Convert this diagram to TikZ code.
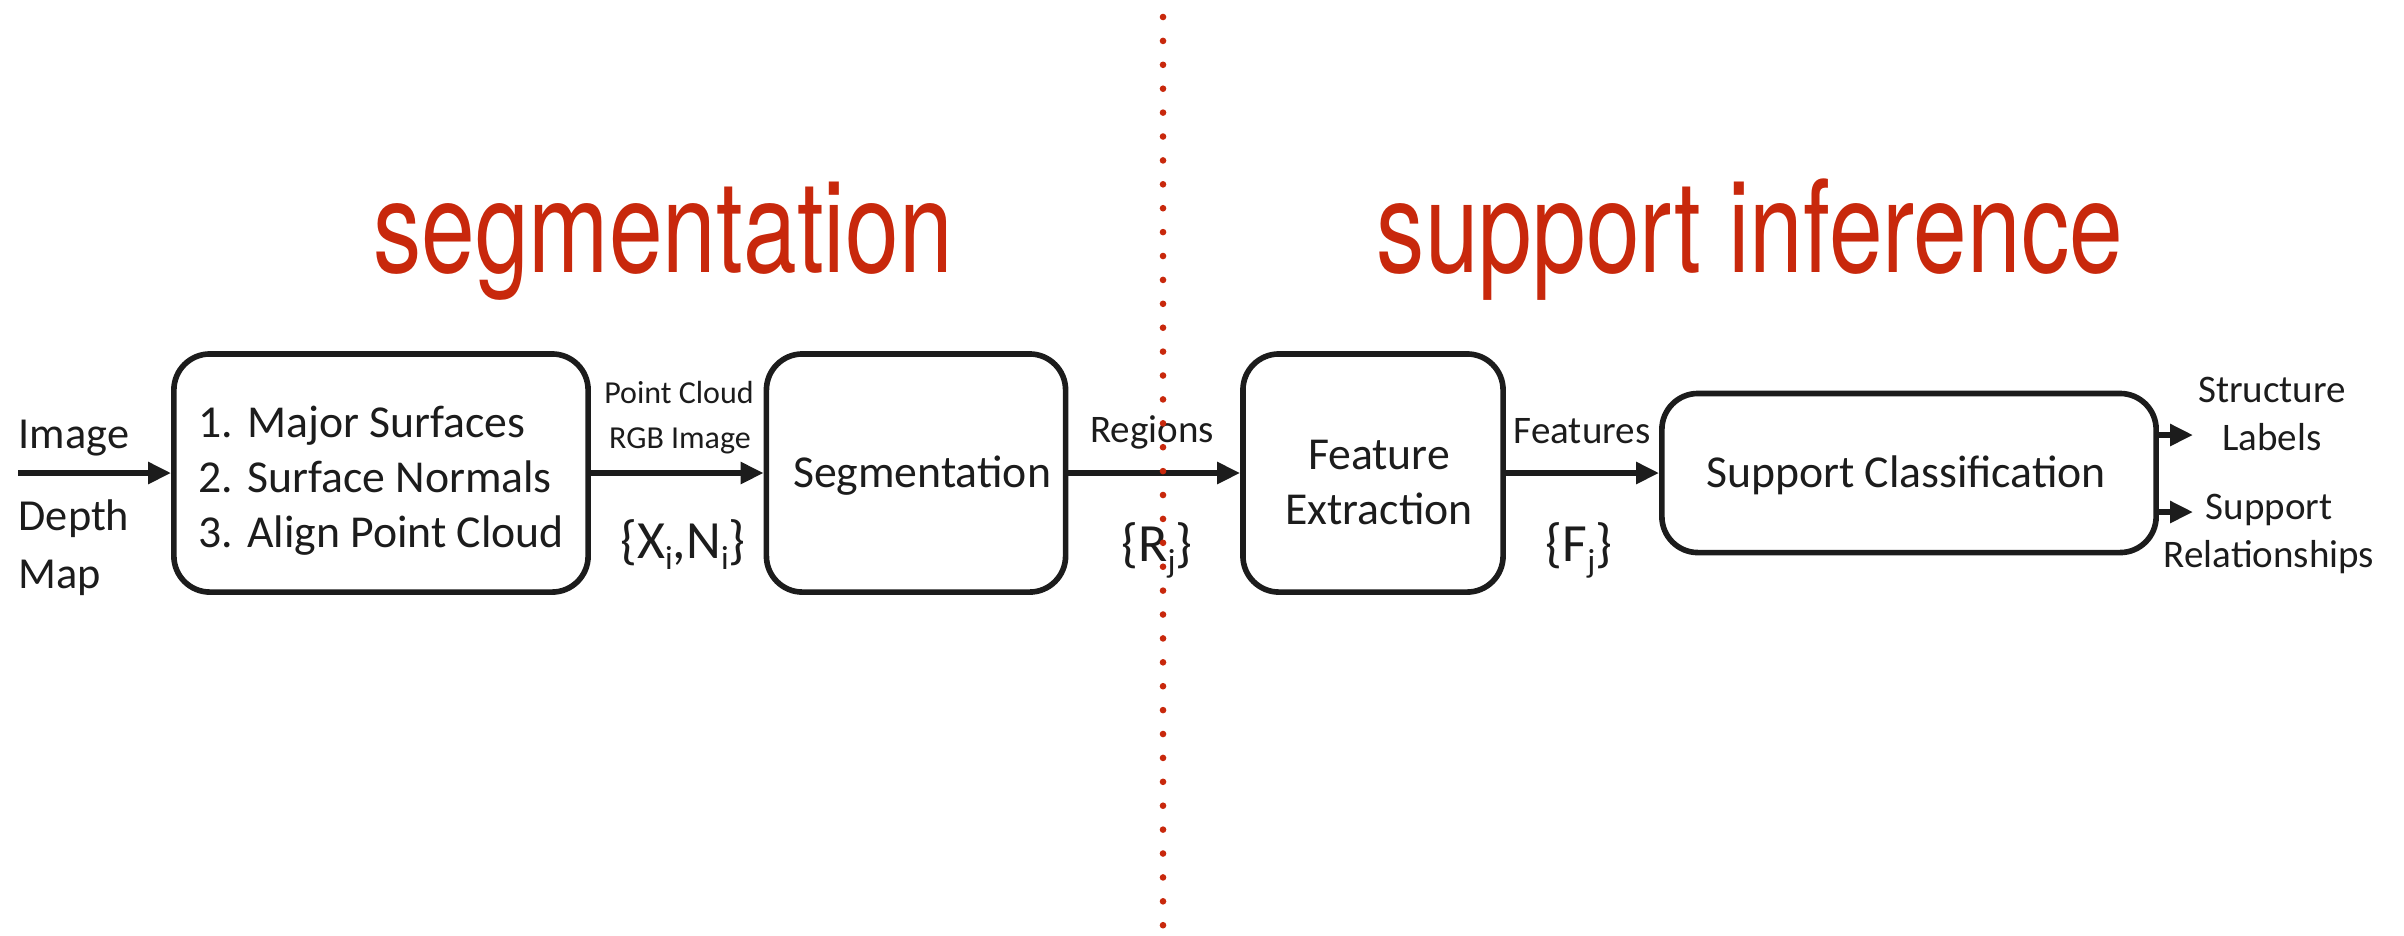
\documentclass[tikz,border=0pt]{standalone}
\usepackage{fontspec}
\setmainfont{Carlito}
\newfontfamily\headfont{TeX Gyre Heros}
\usetikzlibrary{arrows.meta}
\definecolor{sepred}{RGB}{200,40,12}
\definecolor{ink}{RGB}{28,28,28}
% lowered index letter, as in {X_i,N_i}
\newcommand{\lowidx}[1]{\raisebox{-0.45ex}{\fontsize{9.5}{9.5}\selectfont #1}}
\tikzset{
  stage/.style={draw=ink, line width=1.6pt, rounded corners=0.36cm, inner sep=0pt},
  stagetext/.style={text=ink, inner sep=0pt, anchor=base, align=center,
    font=\fontsize{13}{15.6}\selectfont},
  flow/.style={draw=ink, line width=1.6pt, -{Triangle[length=0.23cm,width=0.21cm]}},
  smalllbl/.style={text=ink, inner sep=0pt, align=center, font=\fontsize{9.1}{12.8}\selectfont},
  midlbl/.style={text=ink, inner sep=0pt, align=center, font=\fontsize{11.1}{13.4}\selectfont},
  inlbl/.style={text=ink, inner sep=0pt, anchor=base west, align=left,
    font=\fontsize{12.6}{16.5}\selectfont},
  setlbl/.style={text=ink, inner sep=0pt, anchor=base, font=\fontsize{15.3}{17}\selectfont},
  heading/.style={text=sepred, inner sep=0pt, anchor=base, xscale=0.754,
    font=\headfont\fontsize{36.4}{40}\selectfont}
}
\begin{document}
\begin{tikzpicture}[x=0.01cm,y=-0.01cm]
\useasboundingbox (0,0) rectangle (2404,935);

% section headings
\node[heading] (hseg) at (663,272) {segmentation};
\node[heading] (hsup) at (1750,272) {support inference};

% processing stages (frames)
\node[stage, minimum width=4.14cm, minimum height=2.38cm] (b1) at (381,473) {};
\node[stage, minimum width=2.99cm, minimum height=2.38cm] (b2) at (916,473) {};
\node[stage, minimum width=2.60cm, minimum height=2.38cm] (b3) at (1373,473) {};
\node[stage, minimum width=4.94cm, minimum height=1.59cm] (b4) at (1909,473) {};

% stage captions (base = baseline of the last line)
\node[stagetext, anchor=base west, align=left] (t1) at (198,547)
  {1. Major Surfaces\\2. Surface Normals\\3. Align Point Cloud};
\node[stagetext] (t2) at (922,487) {Segmentation};
\node[stagetext] (t3) at (1379,524) {Feature\\Extraction};
\node[stagetext] (t4) at (1906,487) {Support Classification};

% inputs
\node[inlbl] (img) at (18,448) {Image};
\node[inlbl] (dep) at (18,588) {Depth\\Map};
\coordinate (in) at (18,473);

% edge labels
\node[smalllbl, anchor=base] (pc) at (679,403) {Point Cloud};
\node[smalllbl, anchor=base] (rgb) at (680,448) {RGB Image};
\node[setlbl] (xn) at (683,558) {\{X\lowidx{i},N\lowidx{i}\}};
\node[midlbl, anchor=base] (reg) at (1152,442) {Regions};
\node[setlbl] (rj) at (1157,561) {\{R\lowidx{j}\}};
\node[midlbl, anchor=base] (feat) at (1582,443) {Features};
\node[setlbl] (fj) at (1579,561) {\{F\lowidx{j}\}};

% outputs
\coordinate (o1) at (2193,435);
\coordinate (o2) at (2193,512);
\node[midlbl, anchor=base] (lab) at (2272,450) {Structure\\Labels};
\node[midlbl, anchor=base] (rel) at (2269,567) {Support\\Relationships};

% connectors
\draw[flow] (in) -- (b1);
\draw[flow] (b1) -- (b2);
\draw[flow] (b2) -- (b3);
\draw[flow] (b3) -- (b4);
\draw[flow] (b4.east |- o1) -- (o1);
\draw[flow] (b4.east |- o2) -- (o2);

% dotted divider between the two parts
\foreach \k in {0,...,38}
  \fill[sepred] (1163,{17+\k*23.9}) circle[radius=0.033cm];
\end{tikzpicture}
\end{document}
